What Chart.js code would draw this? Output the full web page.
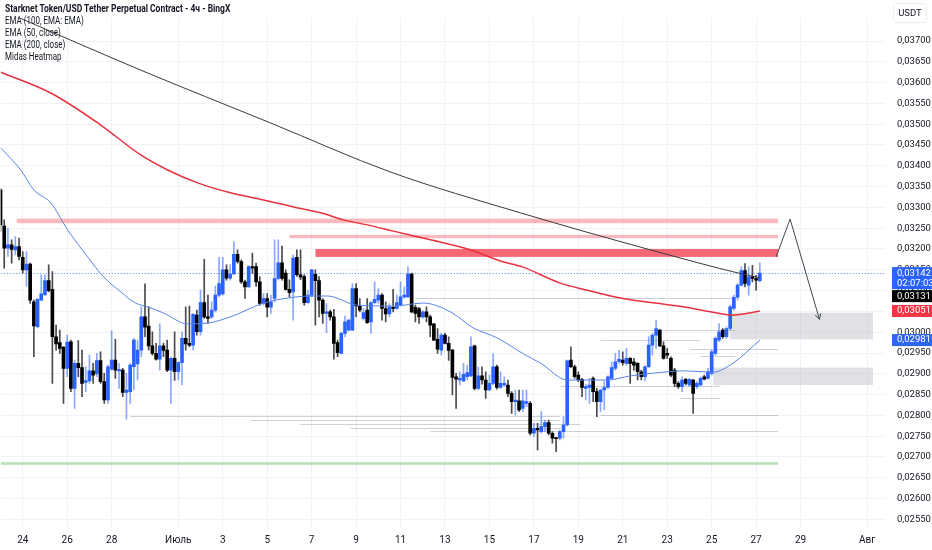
<!DOCTYPE html>
<html>
<head>
<meta charset="utf-8">
<script src="https://cdn.jsdelivr.net/npm/chart.js@4.4.1/dist/chart.umd.min.js"></script>
<style>
body { margin: 0; background: #fff; }
#wrap { position: relative; width: 932px; height: 550px; }
#myChart { display: block; }
.legend { position: absolute; left: 5px; top: 3px; font-family: Roboto, 'Noto Sans', sans-serif; font-size: 10.5px; line-height: 12px; color: #131722; white-space: nowrap; }
.legend div { transform-origin: left center; transform: scaleX(0.76); }
.legend .title { font-weight: bold; transform: scaleX(0.81); }
.unit { position: absolute; left: 893px; top: 3px; width: 32px; height: 18px; line-height: 18px; text-align: center; border: 1px solid #eceef2; border-radius: 3px; font-family: Roboto, sans-serif; font-size: 9.5px; color: #131722; }
</style>
</head>
<body>
<div id="wrap">
  <canvas id="myChart" width="932" height="550"></canvas>
  <div class="legend">
    <div class="title">Starknet Token/USD Tether Perpetual Contract - 4ч - BingX</div>
    <div>EMA (100, EMA: EMA)</div>
    <div>EMA (50, close)</div>
    <div>EMA (200, close)</div>
    <div>Midas Heatmap</div>
  </div>
  <div class="unit">USDT</div>
</div>
<script>
// prices are stored as price x 100000 (3142 = 0,03142)
// 4h candles, first one on 23 Jun 00:00; days counted from 24 Jun 00:00
const firstCandleDay = -1;
const candleStep = 1 / 6;

const opens = [3342,3255,3202,3210,3198,3206,3180,3150,3164,3073,3013,3077,3090,3124,3103,2989,2975,2964,2913,2977,
  2865,2925,2915,2879,2883,2907,2900,2932,2881,2837,2911,2933,2907,2909,2855,2857,2917,2924,2957,3037,
  3015,2967,2949,2935,2967,2957,2909,2937,2905,2927,2985,2973,2969,3041,3001,3071,3037,3037,3053,3089,
  3092,3150,3130,3140,3187,3170,3121,3109,3158,3158,3121,3069,3081,3060,3081,3129,3167,3142,3103,3097,
  3180,3138,3134,3071,3089,3139,3124,3077,3045,3049,3037,2975,2949,2997,3005,3005,3105,3063,3033,3053,
  3025,3071,3077,3089,3057,3044,3060,3057,3065,3085,3085,3140,3060,3057,3037,3049,3037,3020,2983,2957,
  2993,2973,2957,2893,2885,2883,2893,2895,2967,2865,2895,2885,2861,2877,2917,2867,2873,2873,2853,2833,
  2835,2817,2829,2829,2757,2769,2761,2773,2783,2757,2746,2745,2761,2777,2933,2917,2897,2887,2865,2867,
  2889,2857,2833,2861,2867,2889,2913,2929,2933,2925,2937,2929,2925,2905,2893,2917,2969,2993,3005,2967,
  2949,2937,2909,2877,2869,2887,2873,2885,2869,2873,2893,2889,2901,2949,2981,3005,2989,3009,3057,3084,
  3113,3148,3113,3133,3129,3124];
const highs = [3346,3270,3250,3222,3230,3226,3194,3194,3166,3077,3081,3138,3138,3162,3146,3017,3005,2965,2993,2981,
  2933,2980,2957,2917,2945,2925,2949,2953,2901,2921,3004,2983,2925,2913,2901,2925,2985,2981,3061,3116,
  3061,3001,2973,3020,2973,2981,2940,3001,2929,3001,3061,3063,3045,3053,3101,3175,3089,3073,3111,3180,
  3180,3162,3162,3218,3198,3174,3125,3160,3190,3166,3133,3093,3093,3089,3222,3222,3207,3150,3126,3186,
  3198,3198,3138,3101,3151,3150,3134,3081,3069,3053,3055,2981,3001,3039,3031,3117,3117,3081,3057,3081,
  3073,3121,3105,3093,3073,3069,3103,3089,3121,3109,3158,3142,3065,3060,3052,3061,3041,3021,3009,2997,
  2997,2989,2959,2901,2905,2925,2921,2989,2969,2916,2917,2905,2897,2948,2921,2905,2893,2885,2857,2861,
  2861,2861,2861,2833,2781,2781,2809,2789,2789,2761,2747,2765,2797,2933,2965,2921,2905,2889,2875,2889,
  2893,2865,2863,2881,2895,2929,2949,2957,2953,2961,2939,2937,2927,2909,2919,2989,2997,3029,3007,2977,
  2961,2941,2913,2881,2893,2889,2889,2887,2881,2893,2897,2913,2957,2989,3021,3009,3013,3065,3089,3117,
  3157,3165,3157,3161,3137,3167];
const lows = [3242,3154,3182,3166,3186,3174,3142,3110,3069,2941,3010,3076,3088,3097,2877,2957,2949,2829,2893,2857,
  2817,2893,2845,2857,2877,2877,2893,2877,2829,2829,2909,2889,2865,2845,2791,2829,2861,2885,2941,2989,
  2957,2945,2933,2909,2941,2905,2829,2884,2885,2873,2957,2965,2957,2993,2993,3033,3021,3033,3049,3085,
  3089,3125,3125,3138,3166,3117,3081,3108,3141,3110,3065,3065,3037,3045,3073,3125,3125,3101,3085,3029,
  3134,3126,3065,3069,3085,3017,3037,3021,2999,3029,2935,2941,2948,2989,3003,3004,3037,3049,3029,3021,
  2997,3069,3069,3029,3025,3037,3049,3055,3063,3081,3083,3047,3025,3021,3033,3025,2989,2980,2949,2945,
  2972,2932,2849,2817,2873,2881,2885,2893,2861,2861,2875,2841,2859,2873,2863,2865,2869,2845,2805,2801,
  2809,2809,2821,2753,2749,2717,2757,2761,2753,2733,2713,2741,2745,2775,2915,2889,2881,2845,2837,2829,
  2833,2797,2809,2813,2865,2887,2909,2925,2921,2921,2877,2909,2885,2885,2883,2915,2945,2961,2965,2935,
  2937,2893,2869,2865,2857,2873,2869,2805,2865,2871,2885,2887,2897,2945,2977,2985,2985,3005,3053,3077,
  3111,3109,3089,3121,3101,3121];
const closes = [3258,3202,3210,3199,3206,3182,3150,3164,3077,3015,3079,3092,3124,3100,2989,2972,2961,2913,2976,2865,
  2925,2915,2877,2884,2907,2897,2932,2881,2837,2917,2933,2909,2911,2855,2861,2921,2981,2957,3037,3012,
  2967,2949,2935,2967,2956,2909,2937,2905,2927,2985,2972,2969,3043,3001,3071,3037,3033,3053,3089,3117,
  3150,3130,3140,3187,3170,3121,3109,3158,3154,3121,3069,3081,3060,3073,3129,3167,3129,3103,3095,3178,
  3138,3132,3071,3089,3150,3124,3077,3045,3049,3037,2973,2951,2997,3025,3029,3105,3063,3053,3047,3023,
  3071,3079,3089,3057,3044,3061,3057,3071,3085,3089,3140,3049,3045,3037,3049,3037,3017,2981,2959,2993,
  2973,2956,2891,2887,2889,2899,2903,2965,2865,2895,2885,2861,2877,2917,2867,2877,2877,2853,2833,2837,
  2813,2835,2833,2757,2769,2765,2773,2783,2757,2745,2744,2761,2777,2931,2917,2893,2885,2867,2869,2873,
  2857,2833,2861,2867,2893,2915,2929,2935,2927,2937,2925,2921,2905,2893,2917,2969,2993,3009,2967,2937,
  2945,2897,2877,2869,2885,2877,2887,2853,2877,2889,2887,2905,2953,2985,3001,2989,3009,3061,3084,3113,
  3148,3117,3133,3129,3125,3142];

// moving averages at a few points each
const ema50Days = [-0.99,-0.09,0.50,1.26,2.02,2.92,3.64,4.41,5.08,5.62,6.34,7.42,8.32,9.35,10.84,11.92,12.95,13.71,15.06,16.68,
  18.03,19.24,20.28,21.36,22.62,23.29,24.51,26.30,27.34,28.46,29.72,31.07,31.97,33.17];
const ema50 = [3443,3390,3342,3311,3246,3181,3133,3097,3070,3061,3046,3020,3022,3037,3070,3082,3087,3087,3065,3063,
  3070,3049,3010,2986,2945,2926,2885,2885,2895,2902,2907,2904,2926,2981];
const ema100Days = [-0.99,5.31,11.15,16.55,22.39,28.24,32.37,33.17];
const ema100 = [3775,3630,3503,3385,3287,3198,3140,3131];
const ema200Days = [-0.99,1.26,3.51,5.31,6.52,7.87,9.35,10.84,12.19,13.40,14.43,15.51,16.68,18.35,20.14,21.49,22.48,24.19,25.40,26.89,
  28.46,29.72,31.25,31.92,33.17];
const ema200 = [3625,3575,3498,3426,3390,3359,3335,3318,3301,3287,3270,3258,3243,3222,3198,3171,3157,3118,3101,3082,
  3070,3061,3046,3041,3051];

// drawn zones: pink, pink, red, green, grey, grey
const bandTop = [3273,3234,3200,2688,3047,2915];
const bandBottom = [3262,3226,3181,2681,2983,2873];
const bandFrom = [-0.27,12.00,13.17,-0.99,31.83,31.07];
const bandTo = [33.99,33.99,33.99,33.99,38.26,38.26];

// heatmap levels
const heatPrice = [3082,3005,2960,2943,2842,2799,2789,2779,2770,2762,2801,2871,2981];
const heatFrom = [17.67,20.59,30.04,30.49,29.59,4.86,10.25,12.50,14.75,18.35,25.99,24.19,25.99];
const heatTo = [32.06,32.06,33.99,32.06,31.38,24.19,24.19,25.09,24.19,33.99,33.99,31.38,30.49];

// projection arrow
const arrowDays = [33.90,34.53,35.85];
const arrowPrices = [3181,3272,3031];

const xTickDays = [0,2,4,7,9,11,13,15,17,19,21,23,25,27,29,31,33,35,38];
const xTickLabels = ['24','26','28','Июль','3','5','7','9','11','13','15','17','19','21','23','25','27','29','Авг'];
const yTicks = [0.0255,0.026,0.0265,0.027,0.0275,0.028,0.0285,0.029,0.0295,0.03,0.0305,0.031,0.0315,0.032,
  0.0325,0.033,0.0335,0.034,0.0345,0.035,0.0355,0.036,0.0365,0.037];

const countdown = '02:07:03';

const S = 100000;
const UP = '#2962ff';
const DOWN = '#000000';
const bandColors = ['rgba(242,54,69,0.35)','rgba(242,54,69,0.35)','rgba(242,54,69,0.75)','rgba(76,175,80,0.35)',
  'rgba(178,181,190,0.4)','rgba(178,181,190,0.4)'];
const font = "Roboto, 'Noto Sans', sans-serif";

function fmt(v) {
    return v.toFixed(5).replace('.', ',');
}

const candleDays = opens.map((o, i) => firstCandleDay + i * candleStep);
const isUp = opens.map((o, i) => closes[i] >= o);

const bodyData = opens.map((o, i) => ({ x: candleDays[i], y: [Math.min(o, closes[i]) / S, Math.max(o, closes[i]) / S] }));
const wickData = opens.map((o, i) => ({ x: candleDays[i], y: [lows[i] / S, highs[i] / S] }));

function pts(days, vals) {
    return days.map((d, i) => ({ x: d, y: vals[i] / S }));
}

const zonesPlugin = {
    id: 'zones',
    beforeDatasetsDraw(chart) {
        const { ctx, chartArea, scales: { x, y } } = chart;
        ctx.save();
        ctx.beginPath();
        ctx.rect(chartArea.left, chartArea.top, chartArea.width, chartArea.height);
        ctx.clip();

        for (let i = 0; i < heatPrice.length; i++) {
            const py = Math.round(y.getPixelForValue(heatPrice[i] / S)) + 0.5;
            ctx.strokeStyle = 'rgba(120,123,134,0.35)';
            ctx.lineWidth = 1;
            ctx.beginPath();
            ctx.moveTo(x.getPixelForValue(heatFrom[i]), py);
            ctx.lineTo(x.getPixelForValue(heatTo[i]), py);
            ctx.stroke();
        }

        for (let i = 0; i < bandTop.length; i++) {
            const x1 = x.getPixelForValue(bandFrom[i]);
            const x2 = x.getPixelForValue(bandTo[i]);
            const y1 = y.getPixelForValue(bandTop[i] / S);
            const y2 = y.getPixelForValue(bandBottom[i] / S);
            ctx.fillStyle = bandColors[i];
            ctx.fillRect(x1, y1, x2 - x1, y2 - y1);
        }

        // last price dotted line
        const lp = Math.round(y.getPixelForValue(closes[closes.length - 1] / S)) + 0.5;
        ctx.strokeStyle = 'rgba(41,98,255,0.8)';
        ctx.lineWidth = 1;
        ctx.setLineDash([1, 2]);
        ctx.beginPath();
        ctx.moveTo(chartArea.left, lp);
        ctx.lineTo(chartArea.right, lp);
        ctx.stroke();
        ctx.restore();
    },
    afterDatasetsDraw(chart) {
        // arrow head at the end of the projection
        const meta = chart.getDatasetMeta(5);
        const p = meta.data;
        if (!p || p.length < 2) return;
        const a = p[p.length - 2], b = p[p.length - 1];
        const ang = Math.atan2(b.y - a.y, b.x - a.x);
        const ctx = chart.ctx;
        ctx.save();
        ctx.strokeStyle = '#434651';
        ctx.lineWidth = 1;
        ctx.beginPath();
        ctx.moveTo(b.x - 6 * Math.cos(ang - 0.5), b.y - 6 * Math.sin(ang - 0.5));
        ctx.lineTo(b.x, b.y);
        ctx.lineTo(b.x - 6 * Math.cos(ang + 0.5), b.y - 6 * Math.sin(ang + 0.5));
        ctx.stroke();
        ctx.restore();
    }
};

const badgePlugin = {
    id: 'badges',
    afterDraw(chart) {
        const { ctx, scales: { y } } = chart;
        const items = [
            { v: closes[closes.length - 1] / S, lines: [fmt(closes[closes.length - 1] / S), countdown], bg: UP },
            { v: ema100[ema100.length - 1] / S, lines: [fmt(ema100[ema100.length - 1] / S)], bg: '#000000' },
            { v: ema200[ema200.length - 1] / S, lines: [fmt(ema200[ema200.length - 1] / S)], bg: '#f23645' },
            { v: ema50[ema50.length - 1] / S, lines: [fmt(ema50[ema50.length - 1] / S)], bg: '#2f66f0' }
        ];
        let prevBottom = -100;
        ctx.save();
        ctx.font = '9.5px ' + font;
        ctx.textBaseline = 'middle';
        items.forEach(it => {
            const py = y.getPixelForValue(it.v);
            const h = it.lines.length * 10 + 2;
            let top = Math.max(py - 6, prevBottom + 1);
            ctx.fillStyle = it.bg;
            ctx.fillRect(892, top, 40, h);
            ctx.fillStyle = '#ffffff';
            it.lines.forEach((t, k) => ctx.fillText(t, 897, top + 6 + k * 10));
            prevBottom = top + h;
        });
        ctx.restore();
    }
};

const ctx = document.getElementById('myChart').getContext('2d');

const myChart = new Chart(ctx, {
    type: 'bar',
    data: {
        datasets: [
            {
                label: 'wicks',
                data: wickData,
                backgroundColor: isUp.map(u => u ? 'rgba(41,98,255,0.55)' : '#4a4a4a'),
                barThickness: 1,
                grouped: false,
                order: 3
            },
            {
                label: 'bodies',
                data: bodyData,
                backgroundColor: isUp.map(u => u ? UP : DOWN),
                barThickness: 3,
                minBarLength: 1,
                grouped: false,
                order: 2
            },
            {
                type: 'line',
                label: 'EMA 100',
                data: pts(ema100Days, ema100),
                borderColor: '#3b3b3b',
                borderWidth: 1,
                pointRadius: 0,
                cubicInterpolationMode: 'monotone',
                order: 1
            },
            {
                type: 'line',
                label: 'EMA 50',
                data: pts(ema50Days, ema50),
                borderColor: '#5a82e6',
                borderWidth: 1,
                pointRadius: 0,
                cubicInterpolationMode: 'monotone',
                order: 1
            },
            {
                type: 'line',
                label: 'EMA 200',
                data: pts(ema200Days, ema200),
                borderColor: '#e8323f',
                borderWidth: 1.5,
                pointRadius: 0,
                cubicInterpolationMode: 'monotone',
                order: 1
            },
            {
                type: 'line',
                label: 'arrow',
                data: pts(arrowDays, arrowPrices),
                borderColor: '#434651',
                borderWidth: 1,
                pointRadius: 0,
                tension: 0,
                order: 0
            }
        ]
    },
    options: {
        responsive: false,
        animation: false,
        devicePixelRatio: 1,
        layout: { padding: 0 },
        plugins: {
            legend: { display: false },
            tooltip: { enabled: false }
        },
        scales: {
            x: {
                type: 'linear',
                min: -0.99,
                max: 38.8,
                offset: false,
                afterFit(scale) { scale.height = 22; },
                afterBuildTicks(scale) { scale.ticks = xTickDays.map(v => ({ value: v })); },
                grid: { color: '#f0f2f6', drawTicks: false, offset: false },
                border: { display: false },
                ticks: {
                    autoSkip: false,
                    maxRotation: 0,
                    padding: 6,
                    color: '#131722',
                    font: { family: font, size: 10 },
                    callback: (v) => xTickLabels[xTickDays.indexOf(v)]
                }
            },
            y: {
                position: 'right',
                min: 0.025293,
                max: 0.037986,
                afterFit(scale) { scale.width = 47; },
                afterBuildTicks(scale) { scale.ticks = yTicks.map(v => ({ value: v })); },
                grid: { color: '#f0f2f6', drawTicks: false },
                border: { display: false },
                ticks: {
                    padding: 12,
                    color: '#131722',
                    font: { family: font, size: 9.5 },
                    callback: (v) => fmt(v)
                }
            }
        }
    },
    plugins: [zonesPlugin, badgePlugin]
});

// fit the price range to the plot area so 0,03700 sits at y=41 and 0,02550 at y=519
const area = myChart.chartArea;
const perPx = (0.037 - 0.0255) / 478.4;
myChart.options.scales.y.max = 0.037 + (41 - area.top) * perPx;
myChart.options.scales.y.min = 0.0255 - (area.bottom - 519.4) * perPx;
myChart.update();
</script>
</body>
</html>
